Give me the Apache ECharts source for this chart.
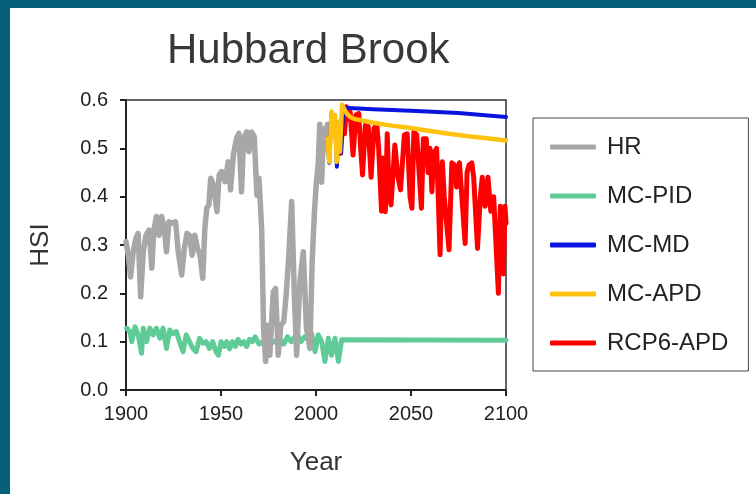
<!DOCTYPE html>
<html>
<head>
<meta charset="utf-8">
<script src="https://cdn.jsdelivr.net/npm/echarts@6/dist/echarts.min.js"></script>
<style>
  html, body { margin: 0; padding: 0; background: #fff; }
  #chart { width: 756px; height: 494px; }
</style>
</head>
<body>
<div id="chart"></div>
<script>
// HR (historical)
const hrYears = [1900, 1901.2, 1902.4, 1903.8, 1905.2, 1906.4, 1907.7, 1909.1, 1910.5, 1912.2, 1913.6, 1914.6, 1916, 1917.4, 1918.8, 1920.2, 1921.3, 1922.6, 1924.4, 1926.1, 1927.5, 1929.3, 1930.7, 1932.1, 1933.4, 1934.8, 1936.2, 1937.6, 1939, 1940.4, 1941.5, 1942.5, 1943.6, 1944.6, 1946, 1947.9, 1949, 1950.3, 1952.1, 1953.8, 1955, 1956.5, 1958.2, 1959.4, 1960.8, 1961.9, 1963.5, 1964.7, 1966.1, 1967.5, 1968.9, 1970, 1971.4, 1972.4, 1973.5, 1974.5, 1975.7, 1977.5, 1978.7, 1980.1, 1981.5, 1983, 1984.3, 1985.7, 1987.2, 1988.6, 1989.8, 1991.5, 1993.3, 1995, 1996.8, 1998, 1999.2, 2000.2, 2001.2, 2002, 2003, 2004, 2005, 2006]
const hrValues = [0.307, 0.279, 0.234, 0.286, 0.314, 0.324, 0.193, 0.286, 0.32, 0.331, 0.252, 0.328, 0.359, 0.32, 0.359, 0.334, 0.286, 0.348, 0.345, 0.348, 0.286, 0.238, 0.293, 0.324, 0.32, 0.279, 0.32, 0.293, 0.279, 0.231, 0.334, 0.376, 0.383, 0.438, 0.424, 0.369, 0.445, 0.452, 0.431, 0.472, 0.414, 0.486, 0.521, 0.531, 0.41, 0.521, 0.534, 0.493, 0.534, 0.524, 0.403, 0.438, 0.334, 0.128, 0.059, 0.134, 0.072, 0.203, 0.21, 0.072, 0.134, 0.141, 0.197, 0.279, 0.39, 0.197, 0.072, 0.224, 0.286, 0.128, 0.086, 0.266, 0.37, 0.43, 0.47, 0.55, 0.43, 0.54, 0.5, 0.55]

// MC-PID
const pidYears = [1900.3, 1902.1, 1903, 1904.7, 1906.4, 1908.2, 1909.1, 1910.8, 1912.5, 1914.3, 1916, 1917.8, 1919.5, 1921.3, 1923, 1924.7, 1926.5, 1928.2, 1930, 1931.7, 1933.4, 1935.2, 1936.9, 1938.7, 1940.4, 1942.2, 1943.9, 1945.6, 1947.4, 1948.6, 1950, 1951.7, 1953, 1954.5, 1956, 1957.5, 1959, 1960.5, 1962, 1963.5, 1965, 1966.5, 1968, 1970, 1972, 1975, 1978, 1981, 1983, 1985, 1987, 1990, 1992, 1994, 1996, 1997.7, 1999.5, 2001.2, 2003, 2004.7, 2006.5, 2008.2, 2010, 2011.8, 2013.5, 2100]
const pidValues = [0.128, 0.121, 0.1, 0.131, 0.114, 0.076, 0.128, 0.1, 0.128, 0.114, 0.128, 0.107, 0.128, 0.086, 0.124, 0.117, 0.121, 0.1, 0.079, 0.114, 0.1, 0.086, 0.079, 0.107, 0.097, 0.1, 0.086, 0.1, 0.079, 0.072, 0.1, 0.09, 0.1, 0.085, 0.1, 0.09, 0.105, 0.095, 0.1, 0.09, 0.105, 0.1, 0.11, 0.095, 0.1, 0.095, 0.1, 0.105, 0.095, 0.11, 0.1, 0.117, 0.1, 0.11, 0.105, 0.117, 0.079, 0.114, 0.1, 0.059, 0.107, 0.072, 0.107, 0.059, 0.104, 0.103]

// MC-MD
const mdYears = [2006, 2007, 2008, 2009, 2010, 2011, 2012, 2013, 2014.5, 2020, 2030, 2050, 2075, 2100]
const mdValues = [0.52, 0.47, 0.57, 0.53, 0.56, 0.462, 0.55, 0.49, 0.584, 0.583, 0.581, 0.578, 0.573, 0.565]

// MC-APD
const apdYears = [2006, 2007, 2008.2, 2009.1, 2010, 2010.9, 2011.8, 2012.6, 2013.7, 2016, 2018, 2020, 2025, 2030, 2035, 2040, 2050, 2060, 2070, 2080, 2090, 2100]
const apdValues = [0.52, 0.472, 0.576, 0.528, 0.569, 0.472, 0.555, 0.493, 0.59, 0.573, 0.565, 0.561, 0.557, 0.553, 0.55, 0.547, 0.542, 0.536, 0.53, 0.525, 0.521, 0.516]

// RCP6-APD
const rcpYears = [2013, 2014, 2015, 2016, 2017, 2018, 2019.5, 2021, 2022.5, 2023.5, 2024.5, 2026, 2027.5, 2029, 2030.5, 2032, 2033, 2034.5, 2035.5, 2036.5, 2037.5, 2038.5, 2039.5, 2041.5, 2043, 2044.5, 2046.5, 2048, 2049.5, 2050.5, 2051.5, 2053, 2055.5, 2056.5, 2058, 2059, 2060, 2061, 2062, 2063.5, 2065.3, 2066.5, 2067.5, 2070, 2071.5, 2073, 2074, 2075.5, 2078.5, 2079.5, 2080.5, 2082, 2083, 2085, 2086.5, 2087.5, 2089, 2090.5, 2092, 2093.5, 2096, 2097, 2098.6, 2099.5, 2100]
const rcpValues = [0.49, 0.555, 0.53, 0.586, 0.56, 0.575, 0.486, 0.569, 0.572, 0.5, 0.445, 0.548, 0.545, 0.44, 0.541, 0.55, 0.5, 0.37, 0.48, 0.369, 0.53, 0.4, 0.383, 0.507, 0.445, 0.414, 0.528, 0.53, 0.4, 0.376, 0.534, 0.528, 0.376, 0.52, 0.52, 0.45, 0.5, 0.41, 0.49, 0.5, 0.28, 0.472, 0.4, 0.29, 0.47, 0.465, 0.42, 0.47, 0.303, 0.45, 0.465, 0.47, 0.44, 0.293, 0.4, 0.44, 0.38, 0.44, 0.37, 0.4, 0.2, 0.38, 0.24, 0.38, 0.345]

const xTicks = [1900, 2100, 50]
const yTicks = [0, 0.6, 0.1]

const pairs = (xs, ys) => xs.map((x, i) => [x, ys[i]])
const font = 'Liberation Sans, Arial, Helvetica, sans-serif'

function line(name, color, xs, ys, width, z) {
  return {
    name: name,
    type: 'line',
    data: pairs(xs, ys),
    showSymbol: false,
    symbol: 'none',
    z: z,
    itemStyle: { color: color },
    lineStyle: { color: color, width: width, join: 'round', cap: 'round' },
    emphasis: { disabled: true }
  }
}

const chart = echarts.init(document.getElementById('chart'))
chart.setOption({
  animation: false,
  backgroundColor: '#fff',
  textStyle: { fontFamily: font },
  graphic: [
    { type: 'rect', shape: { x: 0, y: 0, width: 756, height: 8 }, style: { fill: '#05607c' }, z: 100 },
    { type: 'rect', shape: { x: 0, y: 0, width: 10, height: 494 }, style: { fill: '#05607c' }, z: 100 }
  ],
  title: {
    text: 'Hubbard Brook',
    left: 167,
    top: 30,
    padding: 0,
    textStyle: { fontSize: 42, fontWeight: 'normal', color: '#383838', fontFamily: font }
  },
  legend: {
    orient: 'vertical',
    left: 533,
    top: 118,
    padding: [17, 20, 16, 17],
    borderColor: '#444',
    borderWidth: 1,
    itemGap: 25,
    itemWidth: 46,
    itemHeight: 5,
    icon: 'roundRect',
    data: ['HR', 'MC-PID', 'MC-MD', 'MC-APD', 'RCP6-APD'],
    textStyle: { fontSize: 24, color: '#222', fontFamily: font, padding: [0, 0, 0, 6] }
  },
  grid: {
    left: 126,
    right: 250,
    top: 100,
    bottom: 104,
    show: true,
    borderColor: '#333',
    borderWidth: 1.5
  },
  xAxis: {
    type: 'value',
    min: xTicks[0],
    max: xTicks[1],
    interval: xTicks[2],
    name: 'Year',
    nameLocation: 'middle',
    nameGap: 60,
    nameTextStyle: { fontSize: 26, color: '#333', fontFamily: font },
    axisLine: { lineStyle: { color: '#222', width: 2 } },
    axisTick: { show: true, length: 6, lineStyle: { color: '#222', width: 2 } },
    axisLabel: { fontSize: 20, color: '#222', margin: 14, fontFamily: font, formatter: v => String(v) },
    splitLine: { show: false }
  },
  yAxis: {
    type: 'value',
    min: yTicks[0],
    max: yTicks[1],
    interval: yTicks[2],
    name: 'HSI',
    nameLocation: 'middle',
    nameGap: 72,
    nameTextStyle: { fontSize: 26, color: '#333', fontFamily: font },
    axisLine: { show: true, lineStyle: { color: '#222', width: 2 } },
    axisTick: { show: true, length: 6, lineStyle: { color: '#222', width: 2 } },
    axisLabel: { fontSize: 20, color: '#222', margin: 18, fontFamily: font, formatter: v => v.toFixed(1) },
    splitLine: { show: false }
  },
  series: [
    line('HR', '#a9a6a6', hrYears, hrValues, 5.5, 3),
    line('MC-PID', '#5fcb96', pidYears, pidValues, 5, 2),
    line('MC-MD', '#0a14e0', mdYears, mdValues, 4, 5),
    line('MC-APD', '#ffc20e', apdYears, apdValues, 4.5, 6),
    line('RCP6-APD', '#ff0000', rcpYears, rcpValues, 5, 4)
  ]
})
</script>
</body>
</html>
